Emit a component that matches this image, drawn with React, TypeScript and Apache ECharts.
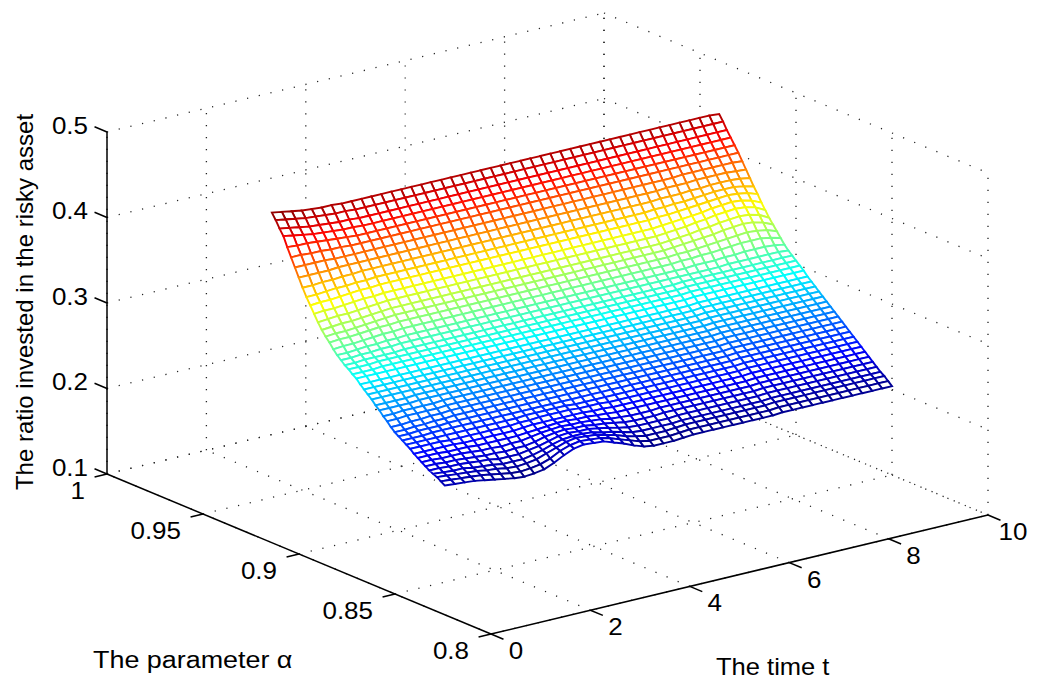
import React, { useEffect, useRef } from "react";
import * as echarts from "echarts";

const timeValues = [1,1.2,1.4,1.6,1.8,2,2.2,2.4,2.6,2.8,3,3.2,3.4,3.6,3.8,4,4.2,4.4,4.6,4.8,5,5.2,5.4,5.6,5.8,6,6.2,6.4,6.6,6.8,7,7.2,7.4,7.6,7.8,8,8.2,8.4,8.6,8.8,9,9.2,9.4,9.6,9.8,10];
const alphaValues = [0.85,0.852,0.854,0.856,0.858,0.86,0.862,0.864,0.866,0.868,0.87,0.872,0.874,0.876,0.878,0.88,0.882,0.884,0.886,0.888,0.89,0.892,0.894,0.896,0.898,0.9,0.902,0.904,0.906,0.908,0.91,0.912,0.914,0.916,0.918,0.92,0.922,0.924,0.926,0.928,0.93,0.932,0.934,0.936,0.938,0.94];
const ratioRows = [
[213,212,211,210,208,206,204,202,201,202,204,209,215,220,222,221,220,216,212,207,203,201,201,201,202,203,203,203,203,203,203,203,203,203,204,204,204,204,204,204,204,204,204,204,204,204],
[216,215,214,213,212,210,208,206,205,206,208,212,218,222,224,223,222,219,215,211,207,205,205,205,206,207,207,207,207,207,207,207,207,207,208,208,208,208,208,208,208,208,208,208,208,208],
[219,218,217,216,215,213,212,210,209,210,212,216,220,224,226,225,224,221,218,214,211,209,209,209,210,211,211,211,211,211,211,211,211,211,212,212,212,212,212,212,212,212,212,212,212,212],
[221,220,219,219,217,216,215,213,213,213,215,218,222,225,226,226,225,222,220,217,214,213,213,213,213,214,214,214,214,214,214,214,214,214,215,215,215,215,215,215,215,215,215,215,215,215],
[223,223,222,222,221,220,219,217,217,217,219,221,224,227,228,227,227,225,223,220,218,217,217,217,217,218,218,218,218,218,218,218,218,218,219,219,219,219,219,219,219,219,219,219,219,219],
[226,226,225,225,224,223,222,222,221,222,222,224,227,229,230,229,229,227,226,224,222,221,221,221,222,222,222,222,222,222,222,222,222,222,223,223,223,223,223,223,223,223,223,223,223,223],
[229,229,228,228,228,227,226,226,225,226,226,228,230,231,232,231,231,230,229,227,226,225,225,225,226,226,226,226,226,226,226,226,226,226,227,227,227,227,227,227,227,227,227,227,227,227],
[232,232,232,231,231,231,230,230,230,230,230,231,232,233,234,234,233,233,232,231,230,230,230,230,230,230,230,230,230,230,230,230,230,230,231,231,231,231,231,231,231,231,231,231,231,231],
[235,235,235,235,235,234,234,234,234,234,234,235,236,236,236,236,236,236,235,235,234,234,234,234,234,234,234,234,234,234,234,234,234,234,235,235,235,235,235,235,235,235,235,235,235,235],
[239,239,239,239,238,238,238,238,238,238,238,239,239,240,240,240,240,239,239,239,238,238,238,238,238,238,238,238,238,238,238,238,238,238,239,239,239,239,239,239,239,239,239,239,239,239],
[242,242,242,242,242,242,242,242,242,242,242,242,243,243,243,243,243,242,242,242,242,242,242,242,242,242,242,242,242,242,242,242,242,242,243,243,243,243,243,243,243,243,243,243,243,243],
[245,245,245,246,246,246,246,246,246,246,246,246,246,246,246,246,246,246,246,246,246,246,246,246,246,246,246,246,246,246,246,246,246,246,247,247,247,247,247,247,247,247,247,247,247,247],
[248,248,249,249,249,250,250,250,250,250,250,250,250,250,250,250,250,250,250,250,250,250,250,250,250,250,250,250,250,250,250,250,250,250,251,251,251,251,251,251,251,251,251,251,251,251],
[251,251,252,252,253,253,254,254,254,254,254,254,254,254,254,254,254,254,254,254,254,254,254,254,254,254,254,254,254,254,254,254,254,254,255,255,255,255,255,255,255,255,255,255,255,255],
[255,255,256,256,257,257,258,258,258,258,258,258,258,258,258,258,258,258,258,258,258,258,258,258,258,258,258,258,258,258,258,258,258,258,259,259,259,259,259,259,259,259,259,259,259,259],
[260,260,261,261,261,261,262,262,262,262,262,262,262,262,262,262,262,262,262,262,262,262,262,262,262,262,262,262,262,262,262,262,262,262,263,263,263,263,263,263,263,263,263,263,263,263],
[264,264,265,265,265,265,266,266,266,266,266,266,266,266,266,266,266,266,266,266,266,266,266,266,266,266,266,266,266,266,266,266,266,266,267,267,267,267,267,267,267,267,267,267,267,267],
[269,269,269,269,270,270,270,270,270,270,270,270,270,270,270,270,270,270,270,270,270,270,270,270,270,270,270,270,270,270,270,270,270,270,271,271,271,271,271,271,271,271,271,271,271,271],
[273,273,273,273,274,274,274,274,274,274,274,274,274,274,274,274,274,274,274,274,274,274,274,274,274,274,274,274,274,274,274,274,274,274,275,275,275,275,275,275,275,275,275,275,275,275],
[278,278,278,278,278,278,278,278,278,278,278,278,278,278,278,278,278,278,278,278,278,278,278,278,278,278,278,278,278,278,278,278,278,278,279,279,279,279,279,279,279,279,279,279,279,279],
[282,282,282,282,282,282,282,282,282,282,282,282,282,282,282,282,282,282,282,282,282,282,282,282,282,282,282,282,282,282,282,282,282,282,283,283,283,283,283,283,283,283,283,283,283,283],
[286,286,286,286,286,286,286,286,286,286,286,286,286,286,286,286,286,286,286,286,286,286,286,286,286,286,286,286,286,286,286,286,286,286,287,287,287,287,287,287,287,287,287,287,287,287],
[290,290,290,290,290,290,290,290,290,290,290,290,290,290,290,290,290,290,290,290,290,290,290,290,290,290,290,290,290,290,290,290,290,290,291,291,291,291,291,291,291,291,291,291,291,291],
[295,295,295,295,295,295,295,295,295,295,295,295,295,295,295,295,295,295,295,295,295,295,295,295,295,295,295,295,295,295,295,295,295,295,296,296,296,296,296,296,296,296,296,296,296,296],
[298,298,298,299,299,299,299,299,299,299,299,299,299,299,299,299,299,299,299,299,299,299,299,299,299,299,299,299,299,299,299,299,299,299,300,300,300,300,300,300,300,300,300,300,300,300],
[302,302,302,303,303,303,303,303,303,303,303,303,303,303,303,303,303,303,303,303,303,303,303,303,303,303,303,303,303,303,303,303,303,303,304,304,304,304,304,304,304,304,304,304,304,304],
[305,305,306,306,306,306,307,307,307,307,307,307,307,307,307,307,307,307,307,307,307,307,307,307,307,307,307,307,307,307,307,307,307,307,308,308,308,308,308,308,308,308,308,308,308,308],
[309,309,310,310,311,311,312,312,312,312,312,312,312,312,312,312,312,312,312,312,312,312,312,312,312,312,312,312,312,312,312,312,312,312,312,312,312,312,312,313,313,313,313,313,313,312],
[313,313,314,315,315,316,316,317,317,317,317,317,317,317,317,317,317,317,317,317,317,317,317,317,317,317,317,317,317,317,317,317,317,317,317,317,318,318,318,319,319,320,320,320,319,317],
[318,319,319,320,321,322,322,323,323,323,323,323,323,323,323,323,323,323,323,323,323,323,323,323,323,323,323,323,323,323,323,323,323,323,323,324,324,325,325,326,327,328,328,328,326,323],
[324,325,325,326,327,328,328,329,329,329,329,329,329,329,329,329,329,329,329,329,329,329,329,329,329,329,329,329,329,329,329,329,329,329,329,330,330,331,332,333,334,335,336,335,333,329],
[329,330,330,331,332,333,334,335,335,335,335,335,335,335,335,335,335,335,335,335,335,335,335,335,335,335,335,335,335,335,335,335,335,335,335,336,337,338,339,340,342,343,344,343,340,335],
[335,336,337,337,338,339,340,341,341,341,341,341,341,341,341,341,341,341,341,341,341,341,341,341,341,341,341,341,341,341,341,341,341,341,341,342,343,344,346,347,349,350,351,350,347,341],
[342,343,344,344,345,346,347,348,348,348,348,348,348,348,348,348,348,348,348,348,348,348,348,348,348,348,348,348,348,348,348,348,348,348,348,349,350,351,353,354,356,357,358,357,354,348],
[350,351,351,352,353,354,354,355,355,355,355,355,355,355,355,355,355,355,355,355,355,355,355,355,355,355,355,355,355,355,355,355,355,355,355,356,357,358,359,360,362,363,364,363,360,355],
[358,359,359,360,361,362,362,363,363,363,363,363,363,363,363,363,363,363,363,363,363,363,363,363,363,363,363,363,363,363,363,363,363,363,363,364,364,365,366,367,368,369,370,369,367,363],
[366,366,367,368,368,369,369,370,370,370,370,370,370,370,370,370,370,370,370,370,370,370,370,370,370,370,370,370,370,370,370,370,370,370,370,371,371,372,372,373,374,375,375,375,373,370],
[375,375,376,376,377,377,378,378,378,378,378,378,378,378,378,378,378,378,378,378,378,378,378,378,378,378,378,378,378,378,378,378,378,378,378,378,379,379,379,380,380,381,381,381,380,378],
[385,385,385,385,386,386,386,386,386,386,386,386,386,386,386,386,386,386,386,386,386,386,386,386,386,386,386,386,386,386,386,386,386,386,386,386,386,387,387,387,388,388,388,388,387,386],
[395,395,395,395,394,394,394,394,394,394,394,394,394,394,394,394,394,394,394,394,394,394,394,394,394,394,394,394,394,394,394,394,394,394,394,394,394,394,394,395,395,395,395,395,395,394],
[405,405,404,404,403,403,402,402,402,402,402,402,402,402,402,402,402,402,402,402,402,402,402,402,402,402,402,402,402,402,402,402,402,402,402,402,402,402,402,402,402,402,402,402,402,402],
[415,414,414,413,412,411,410,409,409,409,409,409,409,409,409,409,409,409,409,409,409,409,409,409,409,409,409,409,409,409,409,409,409,409,409,409,409,409,409,409,409,409,409,409,409,409],
[426,424,422,420,419,418,417,417,416,416,416,416,416,416,416,416,416,416,416,416,416,416,416,416,416,416,416,416,416,416,416,416,416,416,416,416,416,416,416,416,416,416,416,416,416,416],
[433,431,429,427,426,425,424,424,423,423,423,423,423,423,423,423,423,423,423,423,423,423,423,423,423,423,423,423,423,423,423,423,423,423,423,423,423,423,423,423,423,423,423,423,423,423],
[441,439,437,435,434,433,432,432,431,431,431,431,431,431,431,431,431,431,431,431,431,431,431,431,431,431,431,431,431,431,431,431,431,431,431,431,431,431,431,431,431,431,431,431,431,431],
[448,446,444,442,441,440,440,439,439,439,439,439,439,439,439,439,439,439,439,439,439,439,439,439,439,439,439,439,439,439,439,439,439,439,439,439,439,439,439,439,439,439,439,439,439,438],
];

const timeTicks = [0, 2, 4, 6, 8, 10];
const alphaTicks = [0.8, 0.85, 0.9, 0.95, 1];
const alphaTickLabels = ["0.8", "0.85", "0.9", "0.95", "1"];
const ratioTicks = [0.1, 0.2, 0.3, 0.4, 0.5];
const ratioTickLabels = ["0.1", "0.2", "0.3", "0.4", "0.5"];
const xTitle = "The time t";
const yTitle = "The parameter α";
const zTitle = "The ratio invested in the risky asset";

const FONT = "'Liberation Sans', Arial, Helvetica, sans-serif";
const STRETCH = 1.13;

// Orthographic view of the 3D box, onto the hidden pixel-scaled axes
const project = (t: number, a: number, z: number): [number, number] => [
  491 + 49.7 * t - 1920 * (a - 0.8),
  634 - 11.9 * t - 800 * (a - 0.8) - 855 * (z - 0.1),
];

const jet = (v: number): string => {
  const c = (x: number) => Math.round(255 * Math.max(0, Math.min(1, x)));
  const r = c(Math.min(4 * v - 1.5, -4 * v + 4.5));
  const g = c(Math.min(4 * v - 0.5, -4 * v + 3.5));
  const b = c(Math.min(4 * v + 0.5, -4 * v + 2.5));
  return `rgb(${r},${g},${b})`;
};

const zMin = Math.min(...ratioRows.flat());
const zMax = Math.max(...ratioRows.flat());

type Seg = [number, number, number, number, number, number];
const gridSegs: Seg[] = [];
timeTicks.forEach((t) => {
  gridSegs.push([t, 0.8, 0.1, t, 1, 0.1]);
  gridSegs.push([t, 1, 0.1, t, 1, 0.5]);
});
alphaTicks.forEach((a) => {
  gridSegs.push([0, a, 0.1, 10, a, 0.1]);
  gridSegs.push([10, a, 0.1, 10, a, 0.5]);
});
ratioTicks.forEach((z) => {
  gridSegs.push([0, 1, z, 10, 1, z]);
  gridSegs.push([10, 1, z, 10, 0.8, z]);
});

const axisSegs: Seg[] = [
  [0, 1, 0.1, 0, 1, 0.5],
  [0, 1, 0.1, 0, 0.8, 0.1],
  [0, 0.8, 0.1, 10, 0.8, 0.1],
];
ratioTicks.forEach((z) => axisSegs.push([0, 1, z, 0, 1.0065, z]));
alphaTicks.forEach((a) => axisSegs.push([0, a, 0.1, -0.25, a, 0.1]));
timeTicks.forEach((t) => axisSegs.push([t, 0.8, 0.1, t, 0.7935, 0.1]));

const cells: [number, number][] = [];
for (let i = alphaValues.length - 2; i >= 0; i--) {
  for (let j = timeValues.length - 2; j >= 0; j--) cells.push([j, i]);
}

const lineSeries = (data: Seg[], style: any, z: number) => ({
  type: "custom",
  coordinateSystem: "cartesian2d",
  silent: true,
  clip: false,
  z,
  data,
  encode: { x: 0, y: 1 },
  renderItem: (_: any, api: any) => {
    const p = api.coord(project(api.value(0), api.value(1), api.value(2)));
    const q = api.coord(project(api.value(3), api.value(4), api.value(5)));
    return { type: "line", shape: { x1: p[0], y1: p[1], x2: q[0], y2: q[1] }, style };
  },
});

const surfaceSeries = {
  type: "custom",
  coordinateSystem: "cartesian2d",
  silent: true,
  clip: false,
  progressive: 0,
  z: 5,
  data: cells,
  encode: { x: 0, y: 1 },
  renderItem: (_: any, api: any) => {
    const j = api.value(0);
    const i = api.value(1);
    const corners = [[i, j], [i, j + 1], [i + 1, j + 1], [i + 1, j]];
    const zs = corners.map(([r, c]) => ratioRows[r][c] / 1000);
    const pts = corners.map(([r, c], k) =>
      api.coord(project(timeValues[c], alphaValues[r], zs[k]))
    );
    const mean = zs.reduce((s, v) => s + v, 0) / 4;
    const v = (mean * 1000 - zMin) / (zMax - zMin);
    return {
      type: "polygon",
      shape: { points: pts },
      style: { fill: "#fff", stroke: jet(v), lineWidth: 1.9 },
    };
  },
};

const textEl = (x: number, y: number, text: string, align: string, size = 23, rot = 0, sx = STRETCH) => ({
  type: "text",
  x,
  y,
  rotation: rot,
  scaleX: sx,
  silent: true,
  style: { text, x: 0, y: 0, fill: "#000", font: `${size}px ${FONT}`, align, verticalAlign: "middle" },
});

type Lab = [number, number, number, string, number, number, string];
const labels: Lab[] = [
  ...ratioTicks.map((z, k): Lab => [0, 1, z, ratioTickLabels[k], -19, -6, "right"]),
  ...alphaTicks.map((a, k): Lab => [0, a, 0.1, alphaTickLabels[k], -22, 17, "right"]),
  ...timeTicks.map((t): Lab => [t, 0.8, 0.1, String(t), 25, 17, "center"]),
];

const labelSeries = {
  type: "custom",
  coordinateSystem: "cartesian2d",
  silent: true,
  clip: false,
  z: 6,
  data: labels.map((_, k) => [k, 0]),
  encode: { x: 0, y: 1 },
  renderItem: (_: any, api: any) => {
    const l = labels[api.value(0)];
    const p = api.coord(project(l[0], l[1], l[2]));
    return textEl(p[0] + l[4], p[1] + l[5], l[3], l[6]);
  },
};

export default function App() {
  const ref = useRef<HTMLDivElement>(null);
  useEffect(() => {
    const chart = echarts.init(ref.current!, undefined, { renderer: "svg" });
    chart.setOption({
      animation: false,
      backgroundColor: "#fff",
      grid: { left: 0, right: 0, top: 0, bottom: 0 },
      xAxis: { type: "value", min: 0, max: 1037, show: false },
      yAxis: { type: "value", min: 0, max: 680, inverse: true, show: false },
      series: [
        lineSeries(gridSegs, { stroke: "#222", lineWidth: 1.3, lineDash: [1.2, 10.8] }, 1),
        lineSeries(axisSegs, { stroke: "#000", lineWidth: 1.5 }, 2),
        surfaceSeries,
        labelSeries,
      ],
      graphic: [
        textEl(93, 660, yTitle, "left", 23, 0, 1.17),
        textEl(716, 667, xTitle, "left", 23, 0, 1.11),
        textEl(24, 302, zTitle, "center", 24, Math.PI / 2, 1),
      ],
    });
    return () => chart.dispose();
  }, []);
  return (
    <div
      ref={ref}
      style={{ position: "absolute", left: 0, top: 0, width: 1037, height: 680 }}
    />
  );
}
